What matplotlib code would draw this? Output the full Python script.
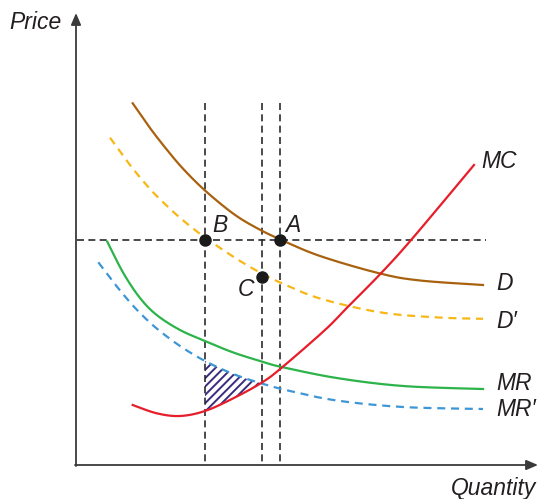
import numpy as np
import matplotlib
matplotlib.use('Agg')
import matplotlib.pyplot as plt

plt.rcParams['font.family'] = ['Liberation Sans', 'DejaVu Sans']
plt.rcParams['hatch.linewidth'] = 1.4

# Curves (quantity, price) in picture units
d_x = [132.7, 150, 166.7, 183.3, 205, 233.3, 256.7, 280, 320, 380, 420, 483]
d_y = [103.3, 128, 149.5, 169, 190.5, 213.7, 228, 239.3, 256, 273.5, 280.5, 285]

d2_x = [110, 130, 150, 166.7, 183.3, 205, 233.3, 256.7, 281.7, 320, 380, 436.7, 483]
d2_y = [137.7, 165, 189, 205.7, 220.6, 237.5, 256.7, 270.7, 283.2, 298.5, 312.3, 317.4, 318.8]

mr_x = [107.3, 123.3, 140, 156.7, 180, 205, 233.3, 263.3, 281.7, 336.7, 403, 483]
mr_y = [241.7, 273, 298, 315, 330, 341, 352.5, 362, 367, 378, 386, 389]

mr2_x = [98.3, 113.3, 126.7, 140, 156.7, 180, 205, 233.3, 261.7, 290, 336.7, 403, 483]
mr2_y = [262.3, 282, 298.5, 313, 328.5, 346, 361, 374, 383.5, 391, 400.5, 407, 409]

mc_x = [132.7, 156.7, 180, 205, 233.3, 261.7, 281.7, 325, 346.7, 380, 411.7, 474]
mc_y = [405, 413.3, 416, 411, 398.3, 382.7, 367.7, 330, 308, 274.3, 239.3, 165]

# Reference points and guide lines
pt_x = [205, 280, 262]
pt_y = [240, 240, 277]
v_guides = [205, 262, 280]
h_guide = 240


def smooth(xs, ys, n=24):
    # Catmull-Rom curve through the read points (for drawing only)
    p = np.column_stack([xs, ys]).astype(float)
    p = np.vstack([p[0], p, p[-1]])
    out = []
    t = np.linspace(0, 1, n, endpoint=False)[:, None]
    for i in range(1, len(p) - 2):
        p0, p1, p2, p3 = p[i - 1], p[i], p[i + 1], p[i + 2]
        seg = 0.5 * ((2 * p1) + (-p0 + p2) * t
                     + (2 * p0 - 5 * p1 + 4 * p2 - p3) * t ** 2
                     + (-p0 + 3 * p1 - 3 * p2 + p3) * t ** 3)
        out.append(seg)
    out.append(p[-2][None, :])
    out = np.vstack(out)
    return out[:, 0], out[:, 1]


fig = plt.figure(figsize=(5.39, 4.99), dpi=100)
ax = fig.add_axes([0, 0, 1, 1])
ax.set_xlim(0, 539)
ax.set_ylim(499, 0)
ax.axis('off')

# axes with arrows
arrow = dict(arrowstyle='-|>,head_length=0.7,head_width=0.3',
             color='#3a3a3a', lw=1.3, shrinkA=0, shrinkB=0)
ax.annotate('', xy=(76, 13), xytext=(76, 466), arrowprops=arrow)
ax.annotate('', xy=(538, 465), xytext=(75, 465), arrowprops=arrow)

# guide lines
dash = (0, (4.2, 2.6))
for gx in v_guides:
    ax.plot([gx, gx], [103, 466], color='#2b2b2b', lw=1.2, linestyle=dash)
ax.plot([77, 486], [h_guide, h_guide], color='#2b2b2b', lw=1.2, linestyle=dash)

d_sx, d_sy = smooth(d_x, d_y)
d2_sx, d2_sy = smooth(d2_x, d2_y)
mr_sx, mr_sy = smooth(mr_x, mr_y)
mr2_sx, mr2_sy = smooth(mr2_x, mr2_y)
mc_sx, mc_sy = smooth(mc_x, mc_y)

# hatched area between MR' and MC
hx = np.linspace(205, 275, 300)
up = np.interp(hx, mr2_sx, mr2_sy)
lo = np.interp(hx, mc_sx, mc_sy)
ax.fill_between(hx, up, lo, where=up <= lo, interpolate=True,
                facecolor='none', edgecolor='#3b2b7c', hatch='////', lw=0)

# curves
ax.plot(d_sx, d_sy, color='#a8620f', lw=1.6)
ax.plot(d2_sx, d2_sy, color='#f7b717', lw=1.6, linestyle=(0, (3.6, 2.6)))
ax.plot(mr_sx, mr_sy, color='#2cb34a', lw=1.6)
ax.plot(mr2_sx, mr2_sy, color='#3d96d6', lw=1.6, linestyle=(0, (3.6, 2.6)))
ax.plot(mc_sx, mc_sy, color='#e61e2a', lw=1.6)

# points
ax.plot(pt_x, pt_y, 'o', color='#1a1a1a', ms=8, zorder=5)

tc = '#231f20'
fs = 16.5
txt = dict(color=tc, fontsize=fs, style='italic', va='center', ha='left')
ax.text(212, 226, 'B', **txt)
ax.text(285, 226, 'A', **txt)
ax.text(238, 290, 'C', **txt)
ax.text(481, 162, 'MC', **txt)
ax.text(496, 284, 'D', **txt)
ax.text(496, 322, 'D\u2032', **txt)
ax.text(496, 383, 'MR', **txt)
ax.text(496, 410, 'MR\u2032', **txt)
ax.text(9, 22, 'Price', **txt)
txt['ha'] = 'right'
ax.text(536, 489, 'Quantity', **txt)

fig.savefig('out.png', dpi=100)
